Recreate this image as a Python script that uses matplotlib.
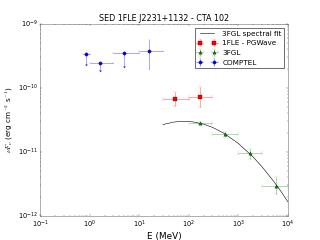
import matplotlib
matplotlib.use("Agg")
import matplotlib.pyplot as plt
import numpy as np

plt.style.use("classic")

# 3FGL spectral fit curve
fit_E = [30, 50, 80, 120, 200, 300, 500, 1000, 2000, 3000, 5000, 7000, 10000]
fit_flux = [2.68e-11, 2.94e-11, 3.02e-11, 2.96e-11, 2.72e-11, 2.43e-11, 1.98e-11,
            1.36e-11, 8.3e-12, 5.87e-12, 3.58e-12, 2.51e-12, 1.66e-12]

# 1FLE - PGWave
pg_E = [53, 168]
pg_Elo = [30, 100]
pg_Ehi = [100, 300]
pg_flux = [6.65e-11, 7.2e-11]
pg_err_lo = [1.47e-11, 2.15e-11]
pg_err_hi = [2.01e-11, 3.2e-11]

# 3FGL
fgl_E = [168, 548, 1740, 5600]
fgl_Elo = [100, 300, 1000, 3000]
fgl_Ehi = [300, 1000, 3000, 10000]
fgl_flux = [2.87e-11, 1.89e-11, 9.5e-12, 2.91e-12]
fgl_err_lo = [0.12e-11, 0.18e-11, 0.165e-11, 0.7e-12]
fgl_err_hi = [0.12e-11, 0.2e-11, 0.17e-11, 1.16e-12]

# COMPTEL
ct_E = [0.83, 1.6, 4.9, 15.8]
ct_Elo = [0.75, 1.0, 3.0, 10.0]
ct_Ehi = [1.0, 3.0, 10.0, 30.0]
ct_flux = [3.4e-10, 2.45e-10, 3.55e-10, 3.8e-10]
ct_err_lo = [1.0e-10, 0.55e-10, 1.35e-10, 1.82e-10]
ct_err_hi = [0.0, 0.0, 0.0, 1.76e-10]
ct_ul = [True, True, True, False]

fig = plt.figure(figsize=(8, 6), dpi=40)
ax = fig.add_subplot(111)

def xerrs(E, lo, hi):
    E = np.asarray(E, float)
    return [E - np.asarray(lo, float), np.asarray(hi, float) - E]

ax.plot(fit_E, fit_flux, color="k", lw=1, label="3FGL spectral fit")

ax.errorbar(pg_E, pg_flux, xerr=xerrs(pg_E, pg_Elo, pg_Ehi),
            yerr=[pg_err_lo, pg_err_hi], fmt="rs", ecolor=(1, 0, 0, 0.6),
            markersize=6, label="1FLE - PGWave")
ax.errorbar(fgl_E, fgl_flux, xerr=xerrs(fgl_E, fgl_Elo, fgl_Ehi),
            yerr=[fgl_err_lo, fgl_err_hi], fmt="^", color="g", mfc="g",
            ecolor=(0, 0.5, 0, 0.55), markersize=6, label="3FGL")

# COMPTEL: upper limits drawn as arrows
ct_yerr_lo = list(ct_err_lo)
ct_yerr_hi = [h if not u else l for h, l, u in zip(ct_err_hi, ct_err_lo, ct_ul)]
ax.errorbar(ct_E, ct_flux, xerr=xerrs(ct_E, ct_Elo, ct_Ehi),
            yerr=[ct_yerr_lo, ct_yerr_hi], uplims=ct_ul, fmt="bo",
            ecolor=(0, 0, 1, 0.6), markersize=6, capsize=2, label="COMPTEL")

ax.set_xscale("log")
ax.set_yscale("log")
ax.set_xlim(1e-1, 1e4)
ax.set_ylim(1e-12, 1e-9)
ax.set_xlabel("E (MeV)", fontsize=16)
ax.set_ylabel(r"$\nu F_\nu$ (erg cm$^{-2}$ s$^{-1}$)", fontsize=13)
ax.set_title("SED 1FLE J2231+1132 - CTA 102")
for sp in ax.spines.values():
    sp.set_color("0.45")
ax.legend(loc="upper right", fontsize=13, handlelength=2.6)

fig.savefig("out.png", dpi=40)
